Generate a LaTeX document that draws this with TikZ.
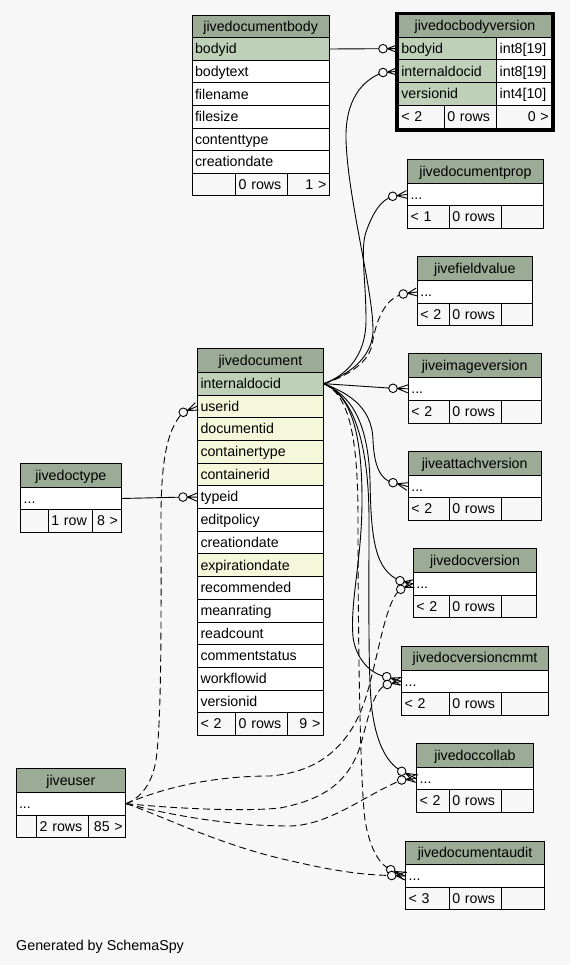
\documentclass[tikz,border=0pt]{standalone}
\usepackage{fontspec}
\setmainfont{Liberation Sans}
\usetikzlibrary{calc}
\definecolor{bg}{HTML}{F7F7F7}
\definecolor{head}{HTML}{9BAB96}
\definecolor{pk}{HTML}{BED1B8}
\definecolor{idx}{HTML}{F4F7DA}
\tikzset{
 cell/.style={draw=black, line width=1pt, inner xsep=3pt, inner ysep=0pt, font=\fontsize{14.2}{17}\selectfont, text=black},
 conn/.style={line width=0.9pt},
 dconn/.style={conn, dash pattern=on 7pt off 4pt},
}
\newcommand\tstrut{\rule[-3.5pt]{0pt}{16.5pt}}
\newcommand\cell[8]{%
  \pgfmathsetmacro\cw{#4-#2}\pgfmathsetmacro\ch{#5-#3}\pgfmathsetmacro\tw{#4-#2-6}%
  \node[cell, fill=#6, minimum width=\cw pt, minimum height=\ch pt, text width=\tw pt, align=#7] (#1) at ({(#2+#4)/2},{(#3+#5)/2}) {\tstrut#8};}
\newcommand\rtable[9]{%
  \cell{#1-h}{#3}{#5}{#4}{#6}{head}{center}{#2}
  \cell{#1-r}{#3}{#6}{#4}{#7}{white}{left}{...}
  \cell{#1-f1}{#3}{#7}{449.3}{#8}{bg}{left}{#9}
  \cell{#1-f2}{449.3}{#7}{501.7}{#8}{bg}{left}{0 rows}
  \cell{#1-f3}{501.7}{#7}{#4}{#8}{bg}{right}{}}
\newcommand\crow[2]{%
  \coordinate (crA) at ($(#1)!4.3pt!(#2)$);
  \draw[conn] (crA) -- (#2) (crA) -- ($(#2)!4pt!90:(crA)$) (crA) -- ($(#2)!4pt!-90:(crA)$);
  \draw[conn, fill=bg] (#1) circle[radius=4.3pt];}
\begin{document}
\begin{tikzpicture}[x=1pt,y=-1pt]
\fill[bg] (0,0) rectangle (570,965);
\useasboundingbox (0,0) rectangle (570,965);

% jivedocumentbody
\cell{body-h}{192}{15.3}{329.3}{37.7}{head}{center}{jivedocumentbody}
\cell{body-bodyid}{192}{37.7}{329.3}{60.3}{pk}{left}{bodyid}
\cell{body-bodytext}{192}{60.3}{329.3}{83}{white}{left}{bodytext}
\cell{body-filename}{192}{83}{329.3}{105.7}{white}{left}{filename}
\cell{body-filesize}{192}{105.7}{329.3}{128.3}{white}{left}{filesize}
\cell{body-contenttype}{192}{128.3}{329.3}{150.7}{white}{left}{contenttype}
\cell{body-creationdate}{192}{150.7}{329.3}{173.3}{white}{left}{creationdate}
\cell{body-f1}{192}{173.3}{235.7}{196}{bg}{left}{}
\cell{body-f2}{235.7}{173.3}{287.7}{196}{bg}{left}{0 rows}
\cell{body-f3}{287.7}{173.3}{329.3}{196}{bg}{right}{1 >}

% jivedocbodyversion
\cell{bv-h}{398.3}{15}{551.7}{37.3}{head}{center}{jivedocbodyversion}
\cell{bv-bodyid}{398.3}{37.3}{496.7}{60}{pk}{left}{bodyid}
\cell{bv-bodyid-t}{496.7}{37.3}{551.7}{60}{white}{left}{int8[19]}
\cell{bv-internaldocid}{398.3}{60}{496.7}{82.7}{pk}{left}{internaldocid}
\cell{bv-internaldocid-t}{496.7}{60}{551.7}{82.7}{white}{left}{int8[19]}
\cell{bv-versionid}{398.3}{82.7}{496.7}{105.3}{pk}{left}{versionid}
\cell{bv-versionid-t}{496.7}{82.7}{551.7}{105.3}{white}{left}{int4[10]}
\cell{bv-f1}{398.3}{105.3}{444.3}{128.3}{bg}{left}{< 2}
\cell{bv-f2}{444.3}{105.3}{496.7}{128.3}{bg}{left}{0 rows}
\cell{bv-f3}{496.7}{105.3}{551.7}{128.3}{bg}{right}{0 >}
\draw[line width=3.4pt] (396.6,13.3) rectangle (553.4,130);

% jivedocument
\cell{doc-h}{197.5}{348.3}{323.3}{372.3}{head}{center}{jivedocument}
\cell{doc-internaldocid}{197.5}{372.3}{323.3}{395}{pk}{left}{internaldocid}
\cell{doc-userid}{197.5}{395}{323.3}{417.7}{idx}{left}{userid}
\cell{doc-documentid}{197.5}{417.7}{323.3}{440.4}{idx}{left}{documentid}
\cell{doc-containertype}{197.5}{440.4}{323.3}{463.1}{idx}{left}{containertype}
\cell{doc-containerid}{197.5}{463.1}{323.3}{485.8}{idx}{left}{containerid}
\cell{doc-typeid}{197.5}{485.8}{323.3}{508.5}{white}{left}{typeid}
\cell{doc-editpolicy}{197.5}{508.5}{323.3}{531.2}{white}{left}{editpolicy}
\cell{doc-creationdate}{197.5}{531.2}{323.3}{553.9}{white}{left}{creationdate}
\cell{doc-expirationdate}{197.5}{553.9}{323.3}{576.6}{idx}{left}{expirationdate}
\cell{doc-recommended}{197.5}{576.6}{323.3}{599.3}{white}{left}{recommended}
\cell{doc-meanrating}{197.5}{599.3}{323.3}{622}{white}{left}{meanrating}
\cell{doc-readcount}{197.5}{622}{323.3}{644.7}{white}{left}{readcount}
\cell{doc-commentstatus}{197.5}{644.7}{323.3}{667.4}{white}{left}{commentstatus}
\cell{doc-workflowid}{197.5}{667.4}{323.3}{690.1}{white}{left}{workflowid}
\cell{doc-versionid}{197.5}{690.1}{323.3}{712.8}{white}{left}{versionid}
\cell{doc-f1}{197.5}{712.8}{235.7}{735.5}{bg}{left}{< 2}
\cell{doc-f2}{235.7}{712.8}{287.3}{735.5}{bg}{left}{0 rows}
\cell{doc-f3}{287.3}{712.8}{323.3}{735.5}{bg}{right}{9 >}

% jivedoctype
\cell{dt-h}{20.7}{463.3}{121}{487.3}{head}{center}{jivedoctype}
\cell{dt-r}{20.7}{487.3}{121}{509.7}{white}{left}{...}
\cell{dt-f1}{20.7}{509.7}{48.3}{532.3}{bg}{left}{}
\cell{dt-f2}{48.3}{509.7}{92.3}{532.3}{bg}{left}{1 row}
\cell{dt-f3}{92.3}{509.7}{121}{532.3}{bg}{right}{8 >}

% jiveuser
\cell{ju-h}{16}{768.3}{125.7}{792.3}{head}{center}{jiveuser}
\cell{ju-r}{16}{792.3}{125.7}{815}{white}{left}{...}
\cell{ju-f1}{16}{815}{36.7}{837.7}{bg}{left}{}
\cell{ju-f2}{36.7}{815}{88.3}{837.7}{bg}{left}{2 rows}
\cell{ju-f3}{88.3}{815}{125.7}{837.7}{bg}{right}{85 >}

% right-hand tables
\rtable{prop}{jivedocumentprop}{407.5}{543.3}{159.3}{183.3}{205.7}{228.3}{< 1}
\rtable{fv}{jivefieldvalue}{417.3}{532.3}{256.7}{280.7}{303.3}{325.7}{< 2}
\rtable{iv}{jiveimageversion}{408.3}{541}{353.3}{377.3}{400.3}{423}{< 2}
\rtable{av}{jiveattachversion}{408.3}{541}{451.3}{475.3}{497.7}{520.3}{< 2}
\rtable{dv}{jivedocversion}{413.3}{536.7}{548.3}{572.3}{595}{617.7}{< 2}
\rtable{dvc}{jivedocversioncmmt}{401.7}{548.3}{646}{670}{692.7}{715.3}{< 2}
\rtable{dc}{jivedoccollab}{416.7}{533.3}{743.3}{767.3}{789.7}{812.3}{< 2}
\rtable{da}{jivedocumentaudit}{405.7}{544.3}{841}{864.7}{887.3}{909.7}{< 3}

\node[anchor=base west, inner sep=0pt, font=\fontsize{14.3}{17}\selectfont] (gen) at (16,950.5) {Generated by SchemaSpy};

% circle positions of the foreign-key ends
\coordinate (c1) at (383,48.7);
\coordinate (c2) at (383,72.5);
\coordinate (c3) at (392.7,196.3);
\coordinate (c4) at (403.3,294);
\coordinate (c5) at (393,388.3);
\coordinate (c6) at (393,482.7);
\coordinate (c7) at (400,580.7);
\coordinate (c8) at (386.7,676.7);
\coordinate (c9) at (401.7,771.3);
\coordinate (c10) at (390.7,869.7);
\coordinate (c11) at (183.3,412.3);
\coordinate (c12) at (400.7,589.3);
\coordinate (c13) at (387.3,684.5);
\coordinate (c14) at (401.7,780);
\coordinate (c15) at (391.7,875.5);
\coordinate (c16) at (183,497.1);

% connectors
\draw[conn] (body-bodyid.east) -- (c1);
\draw[conn] (dt-r.east) -- (c16);
\draw[conn] (doc-internaldocid.east) .. controls (340,378) and (373,362) .. (373,330) .. controls (373,290) and (348,200) .. (346,140) .. controls (345,100) and (362,80) .. (c2);
\draw[conn] (doc-internaldocid.east) .. controls (342,377) and (366,360) .. (366,320) .. controls (366,280) and (360,250) .. (366,232) .. controls (372,215) and (380,200) .. (c3);
\draw[dconn] (doc-internaldocid.east) .. controls (342,378) and (368,365) .. (372,345) .. controls (376,320) and (385,298) .. (c4);
\draw[conn] (doc-internaldocid.east) -- (c5);
\draw[conn] (doc-internaldocid.east) .. controls (345,392) and (372,405) .. (373,440) .. controls (374,465) and (380,480) .. (c6);
\draw[conn] (doc-internaldocid.east) .. controls (350,395) and (368,420) .. (370,480) .. controls (371,540) and (375,570) .. (c7);
\draw[conn] (doc-internaldocid.east) .. controls (350,395) and (362,430) .. (362,500) .. controls (362,560) and (350,600) .. (353,637) .. controls (356,660) and (372,675) .. (c8);
\draw[conn] (doc-internaldocid.east) .. controls (352,395) and (369,440) .. (369,520) .. controls (369,600) and (368,680) .. (372,710) .. controls (376,740) and (385,762) .. (c9);
\draw[dconn] (doc-internaldocid.east) .. controls (350,395) and (358,440) .. (358,520) .. controls (358,640) and (360,780) .. (365,820) .. controls (370,850) and (380,865) .. (c10);
\draw[dconn] (ju-r.east) .. controls (140,798) and (152,785) .. (156,760) .. controls (162,720) and (161,600) .. (161,520) .. controls (161,470) and (165,430) .. (c11);
\draw[dconn] (ju-r.east) .. controls (170,785) and (220,776) .. (270,776) .. controls (320,772) and (350,745) .. (365,700) .. controls (378,660) and (385,600) .. (c12);
\draw[dconn] (ju-r.east) .. controls (170,808) and (240,812) .. (280,808) .. controls (320,800) and (350,785) .. (362,740) .. controls (370,710) and (375,688) .. (c13);
\draw[dconn] (ju-r.east) .. controls (170,815) and (230,826) .. (290,826) .. controls (330,825) and (365,795) .. (c14);
\draw[dconn] (ju-r.east) .. controls (160,815) and (220,845) .. (287,860) .. controls (330,870) and (360,875) .. (c15);

% crow's feet with optional circles
\crow{c1}{bv-bodyid.west}
\crow{c2}{bv-internaldocid.west}
\crow{c3}{prop-r.west}
\crow{c4}{fv-r.west}
\crow{c5}{iv-r.west}
\crow{c6}{av-r.west}
\crow{c7}{dv-r.west}
\crow{c12}{dv-r.west}
\crow{c8}{dvc-r.west}
\crow{c13}{dvc-r.west}
\crow{c9}{dc-r.west}
\crow{c14}{dc-r.west}
\crow{c10}{da-r.west}
\crow{c15}{da-r.west}
\crow{c11}{doc-userid.west}
\crow{c16}{doc-typeid.west}
\end{tikzpicture}
\end{document}
